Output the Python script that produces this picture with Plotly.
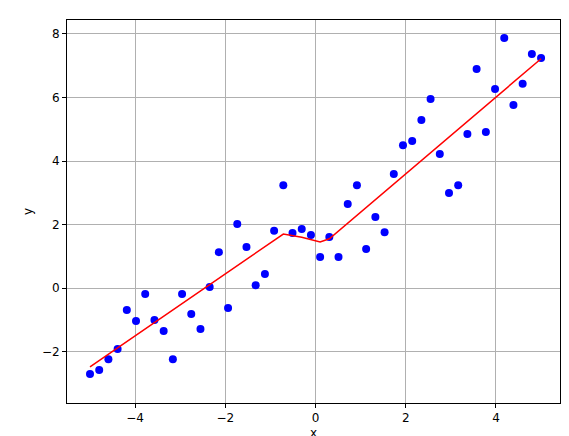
import plotly.graph_objects as go

x_pts = [-5.0,-4.796,-4.592,-4.388,-4.184,-3.980,-3.776,-3.571,-3.367,-3.163,-2.959,-2.755,-2.551,-2.347,-2.143,-1.939,-1.735,-1.531,-1.327,-1.122,-0.918,-0.714,-0.510,-0.306,-0.102,0.102,0.306,0.510,0.714,0.918,1.122,1.327,1.531,1.735,1.939,2.143,2.347,2.551,2.755,2.959,3.163,3.367,3.571,3.776,3.980,4.184,4.388,4.592,4.796,5.0]
y_pts = [-2.71,-2.58,-2.24,-1.92,-0.69,-1.04,-0.19,-1.01,-1.35,-2.24,-0.19,-0.82,-1.29,0.03,1.13,-0.63,2.02,1.29,0.09,0.44,1.80,3.24,1.73,1.86,1.67,0.98,1.61,0.98,2.65,3.24,1.23,2.24,1.76,3.59,4.50,4.63,5.29,5.95,4.22,2.99,3.24,4.85,6.90,4.91,6.27,7.87,5.76,6.43,7.37,7.24]
x_fit = [-5.0,-0.714,-0.306,0.102,0.306,5.0]
y_fit = [-2.48,1.70,1.60,1.45,1.55,7.22]

fig = go.Figure()
fig.add_trace(go.Scatter(x=x_pts, y=y_pts, mode="markers",
                         marker=dict(color="blue", size=8), showlegend=False))
fig.add_trace(go.Scatter(x=x_fit, y=y_fit, mode="lines",
                         line=dict(color="red", width=1.5), showlegend=False))
ax = dict(showgrid=True, gridcolor="#b0b0b0", gridwidth=1, zeroline=False,
          showline=True, linecolor="black", linewidth=1, mirror=True,
          ticks="outside", ticklen=4, tickcolor="black", automargin=False,
          tickfont=dict(family="DejaVu Sans", size=12, color="black"))
fig.update_xaxes(ax, range=[-5.51, 5.42], tickvals=[-4,-2,0,2,4],
                 ticktext=["\u22124","\u22122","0","2","4"],
                 title=dict(text="x", font=dict(family="DejaVu Sans", size=12, color="black"), standoff=4))
fig.update_yaxes(ax, range=[-3.62, 8.44], tickvals=[-2,0,2,4,6,8],
                 ticktext=["\u22122","0","2","4","6","8"],
                 title=dict(text="y", font=dict(family="DejaVu Sans", size=12, color="black"), standoff=6))
fig.update_layout(width=569, height=436, plot_bgcolor="white", paper_bgcolor="white",
                  margin=dict(l=59, r=17, t=12, b=41, autoexpand=False))
fig.write_html("out.html")
